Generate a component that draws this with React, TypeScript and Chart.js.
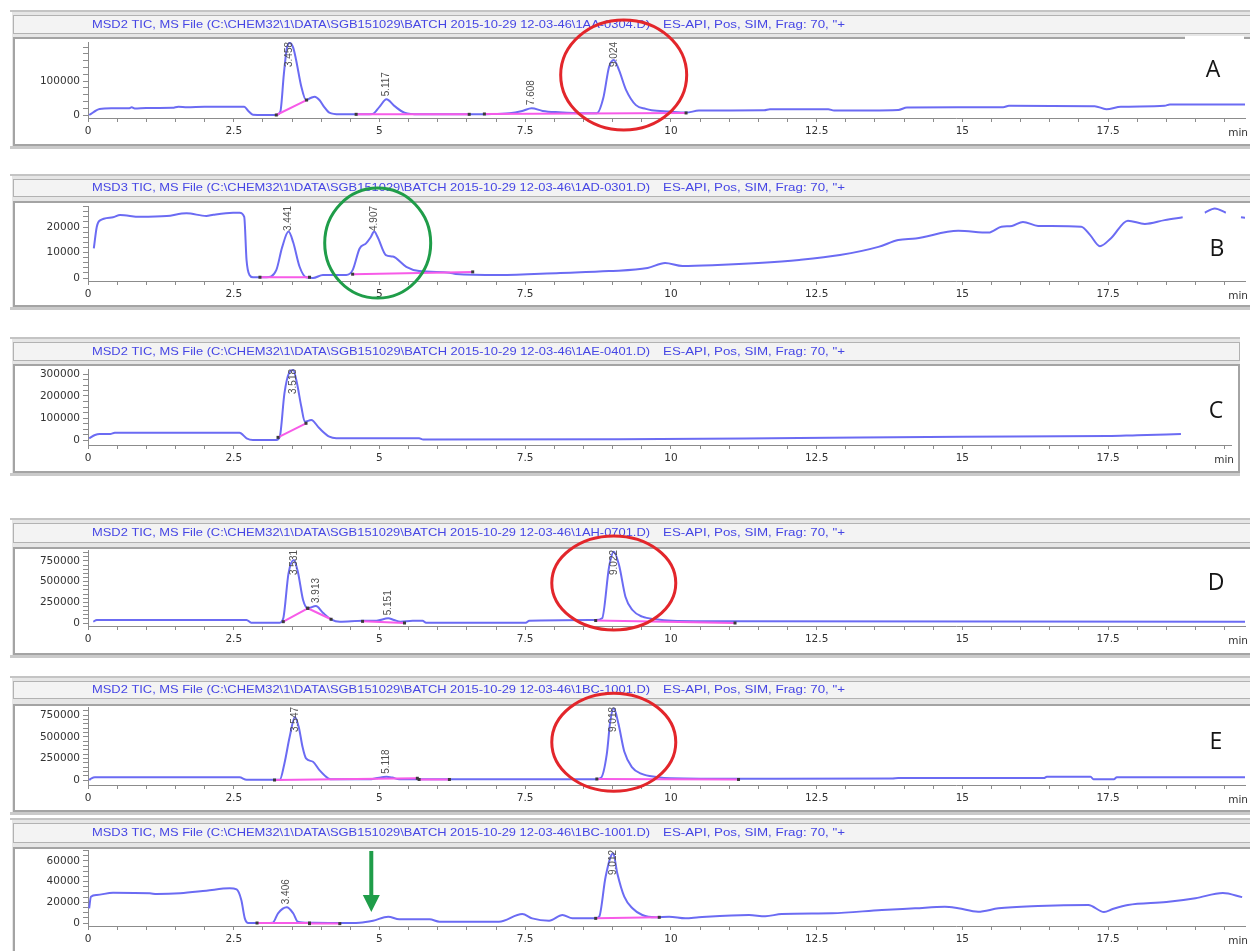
import { useEffect, useRef } from 'react';
import { Chart, registerables } from 'chart.js';

Chart.register(...registerables);

type Pt = [number, number];
type Seg = [Pt, Pt];

// ---- shared text ----
const FILE_PATH = 'C:\\CHEM32\\1\\DATA\\SGB151029\\BATCH 2015-10-29 12-03-46\\';
const METHOD_TEXT = 'ES-API, Pos, SIM, Frag: 70, "+';
const TIME_UNIT = 'min';

// ---- run A: MSD2, 1AA-0304 ----
const titleA = `MSD2 TIC, MS File (${FILE_PATH}1AA-0304.D)`;
const traceA: (Pt | null)[] = [
  [0.02, 0], [0.2, 17600], [0.4, 19700], [0.7, 19700], [0.75, 22500], [0.8, 19000], [1.0, 20500],
  [1.45, 21000], [1.55, 24400], [1.7, 23000], [2.0, 24000], [2.68, 24000], [2.75, 12000], [2.83, 1000],
  [3.23, 0], [3.3, 10000], [3.36, 120000], [3.41, 195000], [3.46, 212000], [3.52, 198000], [3.57, 162000],
  [3.66, 83000], [3.74, 44000], [3.82, 50000], [3.89, 54000], [3.97, 44000], [4.05, 24000], [4.14, 7000],
  [4.32, 2000], [4.6, 2000], [4.88, 3000], [5.0, 24000], [5.12, 46000], [5.26, 26000], [5.43, 7000],
  [5.68, 2000], [6.54, 2000], [6.83, 2500], [7.23, 5000], [7.45, 12000], [7.61, 20000], [7.8, 12000],
  [8.08, 8000], [8.5, 5000], [8.73, 5000], [8.84, 50000], [8.94, 142000], [9.02, 162000], [9.11, 132000],
  [9.23, 74000], [9.4, 29000], [9.57, 18000], [9.67, 14000], [9.97, 10000], [10.26, 7000], [10.48, 13000],
  [11.6, 14000], [11.7, 17000], [12.7, 17000], [12.8, 13000], [13.9, 15000], [14.05, 22000], [15.7, 23000],
  [15.8, 27000], [17.27, 26000], [17.47, 17000], [17.72, 24000], [18.47, 27000], [18.56, 31000], [19.9, 31000],
];
const baselineA: Seg[] = [
  [[3.23, 0], [3.75, 44000]],
  [[4.6, 2000], [6.54, 2000]],
  [[6.8, 3000], [10.26, 6000]],
];
const peaksA = ['3.458', '5.117', '7.608', '9.024'];
const yLabelsA = [0, 100000];

// ---- run B: MSD3, 1AD-0301 ----
const titleB = `MSD3 TIC, MS File (${FILE_PATH}1AD-0301.D)`;
const traceB: (Pt | null)[] = [
  [0.1, 11600], [0.15, 20000], [0.2, 22500], [0.43, 23800], [0.55, 24700], [0.89, 24000], [1.35, 24300],
  [1.69, 25400], [2.03, 24300], [2.15, 24800], [2.49, 25600], [2.6, 25600], [2.68, 24000], [2.72, 7000],
  [2.77, 1200], [2.83, 300], [3.06, 300], [3.23, 3100], [3.33, 12000], [3.44, 18200], [3.52, 14000],
  [3.63, 4400], [3.74, 300], [3.86, 0], [4.03, 1200], [4.43, 1200], [4.54, 3100], [4.66, 11600],
  [4.77, 13600], [4.85, 16000], [4.91, 18200], [4.97, 16000], [5.11, 9000], [5.23, 8400], [5.46, 4400],
  [5.68, 2700], [6.2, 2100], [6.31, 1600], [7.05, 1200], [8.1, 2000], [8.94, 2700], [9.6, 3900],
  [9.9, 5900], [10.2, 4700], [10.8, 5100], [11.5, 5900], [12.2, 7100], [12.9, 9000], [13.56, 12200],
  [13.9, 14900], [14.2, 15500], [14.93, 18500], [15.45, 17800], [15.67, 20100], [15.85, 20400],
  [16.04, 22000], [16.3, 20400], [17.04, 20100], [17.19, 16900], [17.36, 12500], [17.55, 15600],
  [17.84, 22500], [18.13, 21200], [18.47, 22700], [18.78, 23800], null,
  [19.16, 25600], [19.33, 27300], [19.52, 25600], null,
  [19.78, 23800], [19.85, 23600],
];
const baselineB: Seg[] = [
  [[2.95, 300], [3.8, 300]],
  [[4.54, 1500], [6.6, 2400]],
];
const peaksB = ['3.441', '4.907'];
const yLabelsB = [0, 10000, 20000];

// ---- run C: MSD2, 1AE-0401 ----
const titleC = `MSD2 TIC, MS File (${FILE_PATH}1AE-0401.D)`;
const traceC: (Pt | null)[] = [
  [0.02, 7700], [0.12, 22700], [0.2, 27000], [0.38, 27000], [0.46, 33000], [2.6, 33000], [2.72, 7700],
  [2.83, 0], [3.23, 0], [3.29, 15000], [3.37, 212000], [3.45, 305000], [3.52, 318000], [3.58, 265000],
  [3.66, 151000], [3.72, 83000], [3.83, 91000], [3.97, 53000], [4.14, 15000], [4.26, 7700], [5.68, 7700],
  [5.75, 2000], [9.1, 3000], [12.2, 9000], [15.0, 15000], [17.5, 18000], [18.0, 22000], [18.75, 27000],
];
const baselineC: Seg[] = [
  [[3.26, 12000], [3.74, 76000]],
];
const peaksC = ['3.518'];
const yLabelsC = [0, 100000, 200000, 300000];

// ---- run D: MSD2, 1AH-0701 ----
const titleD = `MSD2 TIC, MS File (${FILE_PATH}1AH-0701.D)`;
const traceD: (Pt | null)[] = [
  [0.09, 16000], [0.15, 36000], [2.72, 36000], [2.8, 4000], [3.29, 4000], [3.35, 57000], [3.44, 600000],
  [3.53, 760000], [3.6, 620000], [3.69, 278000], [3.77, 178000], [3.91, 205000], [4.03, 124000],
  [4.17, 45000], [4.32, 16000], [4.71, 28000], [4.95, 28000], [5.15, 57000], [5.25, 36000], [5.36, 16000],
  [5.57, 28000], [5.74, 28000], [5.8, 4000], [7.51, 4000], [7.57, 28000], [8.71, 36000], [8.82, 57000],
  [8.94, 680000], [9.02, 860000], [9.11, 700000], [9.22, 318000], [9.34, 157000], [9.51, 76000],
  [9.74, 45000], [10.02, 28000], [11.1, 20000], [19.9, 16000],
];
const baselineD: Seg[] = [
  [[3.35, 16000], [3.77, 178000]],
  [[3.77, 178000], [4.17, 45000]],
  [[4.71, 20000], [5.43, 0]],
  [[8.71, 30000], [11.1, 0]],
];
const peaksD = ['3.531', '3.913', '5.151', '9.022'];
const yLabelsD = [0, 250000, 500000, 750000];

// ---- run E: MSD2, 1BC-1001 ----
const titleE = `MSD2 TIC, MS File (${FILE_PATH}1BC-1001.D)`;
const traceE: (Pt | null)[] = [
  [0.02, 0], [0.06, 20000], [0.12, 31000], [2.6, 31000], [2.72, 2000], [3.29, 2000], [3.37, 192000],
  [3.46, 500000], [3.55, 730000], [3.62, 600000], [3.68, 384000], [3.74, 250000], [3.86, 211000],
  [3.97, 115000], [4.12, 20000], [4.2, 8000], [4.83, 8000], [4.94, 20000], [5.12, 38000], [5.22, 28000],
  [5.34, 8000], [8.7, 9000], [8.8, 25000], [8.9, 300000], [8.96, 680000], [9.02, 830000], [9.1, 650000],
  [9.2, 330000], [9.33, 150000], [9.5, 70000], [9.75, 35000], [10.0, 20000], [11.2, 14000], [13.8, 18000],
  [13.9, 22000], [16.4, 22000], [16.45, 38000], [17.2, 38000], [17.25, 8000], [17.6, 8000], [17.65, 31000],
  [19.9, 31000],
];
const baselineE: Seg[] = [
  [[3.2, 0], [5.65, 20000]],
  [[5.68, 6000], [6.2, 6000]],
  [[8.73, 12000], [11.16, 6000]],
];
const peaksE = ['3.547', '5.118', '9.018'];
const yLabelsE = [0, 250000, 500000, 750000];

// ---- run F: MSD3, 1BC-1001 ----
const titleF = `MSD3 TIC, MS File (${FILE_PATH}1BC-1001.D)`;
const traceF: (Pt | null)[] = [
  [0.02, 14200], [0.05, 25400], [0.15, 27000], [0.43, 29300], [1.06, 28700], [1.18, 28000], [1.58, 28700],
  [2.03, 31200], [2.43, 33500], [2.55, 32400], [2.63, 22200], [2.69, 4500], [2.75, 0], [3.06, 0],
  [3.17, 300], [3.26, 9400], [3.41, 15200], [3.52, 9400], [3.6, 1300], [3.8, 300], [4.32, 0], [4.66, 300],
  [4.89, 2200], [5.15, 6100], [5.34, 3600], [5.86, 3600], [6.03, 1300], [7.05, 1300], [7.45, 8700],
  [7.62, 4500], [7.91, 2200], [8.14, 7700], [8.31, 4500], [8.71, 4500], [8.77, 6100], [8.88, 44700],
  [9.01, 67300], [9.08, 48000], [9.2, 25400], [9.34, 14200], [9.51, 7700], [9.74, 5500], [9.97, 6100],
  [10.25, 4500], [10.48, 5500], [11.34, 7700], [11.62, 6500], [11.9, 8700], [12.76, 9400], [13.62, 12600],
  [14.19, 14200], [14.7, 15700], [14.93, 14200], [15.27, 10900], [15.62, 14200], [16.3, 16400],
  [17.16, 17400], [17.43, 10600], [17.58, 13500], [17.84, 17400], [18.5, 20300], [19.0, 24000],
  [19.47, 29000], [19.8, 25000],
];
const baselineF: Seg[] = [
  [[2.9, 0], [3.8, 0]],
  [[3.8, -600], [4.32, -600]],
  [[8.71, 4500], [9.8, 5500]],
];
const peaksF = ['3.406', '9.012'];
const yLabelsF = [0, 20000, 40000, 60000];

// ---- drawing setup ----
const TRACE_COLOR = '#6b6bf3';
const BASE_COLOR = '#f75be8';
const RED = '#e3262b';
const GREEN = '#1f9d49';
const AXIS_COLOR = '#8c8c8c';
const TICK_FONT = { family: '"DejaVu Sans"', size: 10.5 };
const PX_PER_MIN = 58.29;
const AREA_LEFT = 88;
const X_AXIS_H = 24;

type Mark =
  | { kind: 'ellipse'; t: number; v: number; rx: number; ry: number; color: string }
  | { kind: 'arrow'; t: number; from: number; to: number; color: string };

interface PanelCfg {
  id: string;
  top: number;
  bottom: number;
  headerTop: number;
  headerBottom: number;
  boxTop: number;
  boxBottom: number;
  frameRight: number;
  areaRight: number;
  axisTop: number;
  axisLine: number;
  zeroY: number;
  unit: number;
  unitPx: number;
  minor: number;
  yLabels: number[];
  title: string;
  trace: (Pt | null)[];
  baselines: Seg[];
  peaks: string[];
  marks: Mark[];
  letter?: { text: string; x: number; y: number };
  letterBox?: [number, number, number, number];
}

const panels: PanelCfg[] = [
  {
    id: 'A', top: 8, bottom: 150, headerTop: 15, headerBottom: 33, boxTop: 37, boxBottom: 146,
    frameRight: 1253, areaRight: 1245, axisTop: 42, axisLine: 118, zeroY: 115, unit: 100000, unitPx: 34,
    minor: 20000, yLabels: yLabelsA, title: titleA, trace: traceA, baselines: baselineA, peaks: peaksA,
    marks: [{ kind: 'ellipse', t: 9.19, v: 117600, rx: 63, ry: 55, color: RED }],
    letter: { text: 'A', x: 1213, y: 70 }, letterBox: [1185, 36, 1244, 98],
  },
  {
    id: 'B', top: 172, bottom: 310, headerTop: 179, headerBottom: 196, boxTop: 201, boxBottom: 307,
    frameRight: 1253, areaRight: 1245, axisTop: 206, axisLine: 281, zeroY: 278, unit: 10000, unitPx: 25.5,
    minor: 2000, yLabels: yLabelsB, title: titleB, trace: traceB, baselines: baselineB, peaks: peaksB,
    marks: [{ kind: 'ellipse', t: 4.97, v: 13700, rx: 53, ry: 55, color: GREEN }],
    letter: { text: 'B', x: 1217, y: 249 },
  },
  {
    id: 'C', top: 335, bottom: 476, headerTop: 342, headerBottom: 360, boxTop: 364, boxBottom: 473,
    frameRight: 1240, areaRight: 1231, axisTop: 369, axisLine: 445, zeroY: 440, unit: 100000, unitPx: 22,
    minor: 25000, yLabels: yLabelsC, title: titleC, trace: traceC, baselines: baselineC, peaks: peaksC,
    marks: [], letter: { text: 'C', x: 1216, y: 411 },
  },
  {
    id: 'D', top: 516, bottom: 658, headerTop: 523, headerBottom: 542, boxTop: 547, boxBottom: 655,
    frameRight: 1253, areaRight: 1245, axisTop: 550, axisLine: 626, zeroY: 623, unit: 250000, unitPx: 20.7,
    minor: 50000, yLabels: yLabelsD, title: titleD, trace: traceD, baselines: baselineD, peaks: peaksD,
    marks: [{ kind: 'ellipse', t: 9.02, v: 483000, rx: 62, ry: 47, color: RED }],
    letter: { text: 'D', x: 1216, y: 583 },
  },
  {
    id: 'E', top: 674, bottom: 815, headerTop: 681, headerBottom: 698, boxTop: 704, boxBottom: 812,
    frameRight: 1253, areaRight: 1245, axisTop: 707, axisLine: 785, zeroY: 780, unit: 250000, unitPx: 21.6,
    minor: 50000, yLabels: yLabelsE, title: titleE, trace: traceE, baselines: baselineE, peaks: peaksE,
    marks: [{ kind: 'ellipse', t: 9.02, v: 438000, rx: 62, ry: 49, color: RED }],
    letter: { text: 'E', x: 1216, y: 742 },
  },
  {
    id: 'F', top: 816, bottom: 951, headerTop: 823, headerBottom: 842, boxTop: 847, boxBottom: 960,
    frameRight: 1253, areaRight: 1245, axisTop: 850, axisLine: 926, zeroY: 923, unit: 20000, unitPx: 20.7,
    minor: 5000, yLabels: yLabelsF, title: titleF, trace: traceF, baselines: baselineF, peaks: peaksF,
    marks: [{ kind: 'arrow', t: 4.86, from: 69600, to: 10600, color: GREEN }],
  },
];

function drawFittedText(ctx: CanvasRenderingContext2D, text: string, x: number, y: number, width: number) {
  const w = ctx.measureText(text).width;
  ctx.save();
  ctx.translate(x, y);
  ctx.scale(width / w, 1);
  ctx.fillText(text, 0, 0);
  ctx.restore();
}

function createChart(canvas: HTMLCanvasElement, cfg: PanelCfg) {
  const H = cfg.bottom - cfg.top;
  const perPx = cfg.unit / cfg.unitPx;
  const yMin = -(cfg.axisLine - cfg.zeroY) * perPx;
  const yMax = (cfg.zeroY - cfg.axisTop) * perPx;
  const xMax = (cfg.areaRight - AREA_LEFT) / PX_PER_MIN;
  const o = (y: number) => y - cfg.top;

  const yTicks: number[] = [];
  for (let v = 0; v <= yMax; v += cfg.minor) yTicks.push(v);
  const xTicks: number[] = [];
  for (let i = 0; i * 0.5 <= xMax; i++) xTicks.push(i * 0.5);

  const traceData: { x: number; y: number | null }[] = [];
  let lastT = 0;
  for (const p of cfg.trace) {
    if (p) {
      traceData.push({ x: p[0], y: p[1] });
      lastT = p[0];
    } else {
      traceData.push({ x: lastT, y: null });
    }
  }
  const baseData: { x: number; y: number | null }[] = [];
  for (const [a, b] of cfg.baselines) {
    baseData.push({ x: a[0], y: a[1] }, { x: b[0], y: b[1] }, { x: b[0], y: null });
  }

  const framePlugin = {
    id: 'frame' + cfg.id,
    beforeDraw(chart: Chart) {
      const ctx = chart.ctx;
      const fr = cfg.frameRight;
      ctx.save();
      ctx.fillStyle = '#e6e6e6';
      ctx.fillRect(12, o(cfg.headerTop - 4), fr - 12, cfg.boxBottom - cfg.headerTop + 6);
      ctx.fillStyle = '#c4c4c4';
      ctx.fillRect(10, o(cfg.headerTop - 5), fr - 10, 2);
      ctx.fillStyle = '#f3f3f3';
      ctx.fillRect(13, o(cfg.headerTop), fr - 13, cfg.headerBottom - cfg.headerTop);
      ctx.strokeStyle = '#b2b2b2';
      ctx.lineWidth = 1;
      ctx.strokeRect(13.5, o(cfg.headerTop) + 0.5, fr - 14, cfg.headerBottom - cfg.headerTop);
      ctx.fillStyle = '#ffffff';
      ctx.fillRect(13, o(cfg.boxTop), fr - 13, cfg.boxBottom - cfg.boxTop);
      ctx.strokeStyle = '#a4a4a4';
      ctx.lineWidth = 2;
      ctx.strokeRect(14, o(cfg.boxTop) + 1, fr - 15, cfg.boxBottom - cfg.boxTop - 2);
      ctx.fillStyle = '#cacaca';
      ctx.fillRect(10, o(cfg.boxBottom), fr - 10, 3);

      // run header
      ctx.fillStyle = '#4646e4';
      ctx.font = '11px "Liberation Sans"';
      ctx.textBaseline = 'middle';
      ctx.textAlign = 'left';
      const hy = o((cfg.headerTop + cfg.headerBottom) / 2) + 0.5;
      drawFittedText(ctx, cfg.title, 92, hy, 558);
      drawFittedText(ctx, METHOD_TEXT, 663, hy, 182);
      ctx.restore();
    },
  };

  const notePlugin = {
    id: 'notes' + cfg.id,
    afterDraw(chart: Chart) {
      const ctx = chart.ctx;
      const xs = chart.scales.x;
      const ys = chart.scales.y;
      const area = chart.chartArea;
      ctx.save();

      // integration marks at baseline ends
      ctx.fillStyle = '#3a3a3a';
      for (const seg of cfg.baselines) {
        for (const p of seg) {
          const px = xs.getPixelForValue(p[0]);
          const py = ys.getPixelForValue(p[1]);
          ctx.fillRect(px - 1.5, py - 1.5, 3, 3);
        }
      }

      // retention time labels
      ctx.font = '10px "Liberation Sans"';
      ctx.fillStyle = '#505050';
      ctx.textBaseline = 'middle';
      ctx.textAlign = 'left';
      for (const label of cfg.peaks) {
        const tp = Number(label);
        let vmax = -Infinity;
        for (const p of cfg.trace) {
          if (p && Math.abs(p[0] - tp) <= 0.1 && p[1] > vmax) vmax = p[1];
        }
        const px = xs.getPixelForValue(tp);
        const pyTop = ys.getPixelForValue(vmax);
        const w = ctx.measureText(label).width;
        let start = pyTop - 3;
        if (start - w < area.top) start = area.top + w;
        ctx.save();
        ctx.translate(px, start);
        ctx.rotate(-Math.PI / 2);
        ctx.fillText(label, 0, 0);
        ctx.restore();
      }

      // time unit
      ctx.font = '10.5px "DejaVu Sans"';
      ctx.fillStyle = '#333';
      ctx.textAlign = 'right';
      ctx.fillText(TIME_UNIT, area.right + 3, area.bottom + 15);

      if (cfg.letterBox) {
        const [x1, y1, x2, y2] = cfg.letterBox;
        ctx.fillStyle = '#ffffff';
        ctx.fillRect(x1, o(y1), x2 - x1, y2 - y1);
      }
      if (cfg.letter) {
        ctx.font = '23px "Open Sans"';
        ctx.fillStyle = '#151515';
        ctx.textAlign = 'center';
        ctx.textBaseline = 'middle';
        ctx.fillText(cfg.letter.text, cfg.letter.x, o(cfg.letter.y));
      }

      for (const m of cfg.marks) {
        if (m.kind === 'ellipse') {
          ctx.strokeStyle = m.color;
          ctx.lineWidth = 3;
          ctx.beginPath();
          ctx.ellipse(xs.getPixelForValue(m.t), ys.getPixelForValue(m.v), m.rx, m.ry, 0, 0, Math.PI * 2);
          ctx.stroke();
        } else {
          const x = xs.getPixelForValue(m.t);
          const y1 = ys.getPixelForValue(m.from);
          const y2 = ys.getPixelForValue(m.to);
          ctx.strokeStyle = m.color;
          ctx.lineWidth = 4;
          ctx.beginPath();
          ctx.moveTo(x, y1);
          ctx.lineTo(x, y2 - 12);
          ctx.stroke();
          ctx.fillStyle = m.color;
          ctx.beginPath();
          ctx.moveTo(x - 8.5, y2 - 17);
          ctx.lineTo(x + 8.5, y2 - 17);
          ctx.lineTo(x, y2);
          ctx.closePath();
          ctx.fill();
        }
      }
      ctx.restore();
    },
  };

  return new Chart(canvas, {
    type: 'line',
    data: {
      datasets: [
        {
          data: baseData as any,
          borderColor: BASE_COLOR,
          borderWidth: 2,
          pointRadius: 0,
          tension: 0,
          spanGaps: false,
          order: 0,
        },
        {
          data: traceData as any,
          borderColor: TRACE_COLOR,
          borderWidth: 2,
          pointRadius: 0,
          cubicInterpolationMode: 'monotone',
          spanGaps: false,
          order: 1,
        },
      ],
    },
    options: {
      responsive: false,
      animation: false,
      devicePixelRatio: 1,
      events: [],
      layout: {
        padding: {
          left: 0,
          right: 1250 - cfg.areaRight,
          top: cfg.axisTop - cfg.top,
          bottom: H - (cfg.axisLine - cfg.top) - X_AXIS_H,
        },
      },
      plugins: { legend: { display: false }, tooltip: { enabled: false }, title: { display: false } },
      scales: {
        x: {
          type: 'linear',
          min: 0,
          max: xMax,
          afterBuildTicks: (s: any) => {
            s.ticks = xTicks.map((v) => ({ value: v }));
          },
          afterFit: (s: any) => {
            s.height = X_AXIS_H;
          },
          ticks: {
            autoSkip: false,
            maxRotation: 0,
            minRotation: 0,
            padding: 3,
            color: '#333',
            font: TICK_FONT,
            callback: (v: any) => {
              const n = Number(v);
              const k = n / 2.5;
              return Math.abs(k - Math.round(k)) < 1e-6 ? String(Math.round(n * 10) / 10) : '';
            },
          },
          grid: { drawOnChartArea: false, tickLength: 4, color: AXIS_COLOR },
          border: { color: AXIS_COLOR, width: 1 },
        },
        y: {
          type: 'linear',
          min: yMin,
          max: yMax,
          afterBuildTicks: (s: any) => {
            s.ticks = yTicks.map((v) => ({ value: v }));
          },
          afterFit: (s: any) => {
            s.width = AREA_LEFT;
          },
          ticks: {
            autoSkip: false,
            padding: 3,
            color: '#333',
            font: TICK_FONT,
            callback: (v: any) => (cfg.yLabels.includes(Number(v)) ? String(v) : ''),
          },
          grid: { drawOnChartArea: false, tickLength: 5, color: AXIS_COLOR },
          border: { color: AXIS_COLOR, width: 1 },
        },
      },
    },
    plugins: [framePlugin, notePlugin],
  });
}

function RunPanel({ cfg }: { cfg: PanelCfg }) {
  const ref = useRef<HTMLCanvasElement>(null);
  useEffect(() => {
    if (!ref.current) return;
    const chart = createChart(ref.current, cfg);
    return () => chart.destroy();
  }, [cfg]);
  const h = cfg.bottom - cfg.top;
  return (
    <canvas
      ref={ref}
      width={1250}
      height={h}
      style={{ position: 'absolute', left: 0, top: cfg.top, width: 1250, height: h, display: 'block' }}
    />
  );
}

export default function App() {
  return (
    <div
      style={{
        position: 'absolute',
        left: 0,
        top: 0,
        width: 1250,
        height: 951,
        background: '#ffffff',
        overflow: 'hidden',
      }}
    >
      {panels.map((p) => (
        <RunPanel key={p.id} cfg={p} />
      ))}
    </div>
  );
}
